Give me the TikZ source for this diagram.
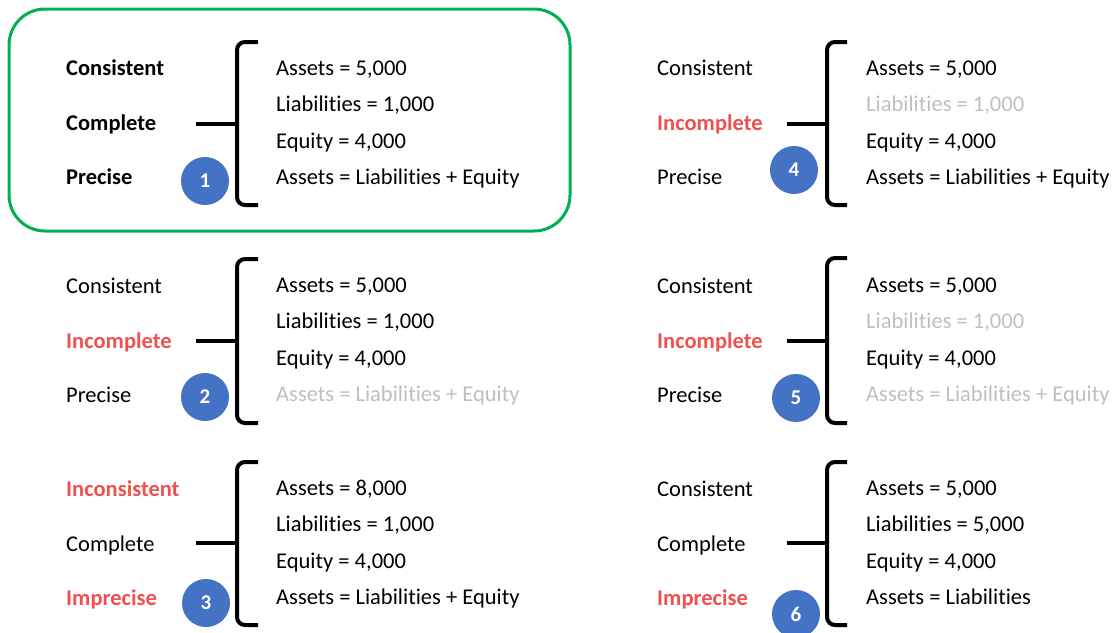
\documentclass[tikz,border=0pt]{standalone}
\usepackage{fontspec}
\setmainfont{Carlito}[Ligatures=NoCommon]
\usetikzlibrary{positioning}
\definecolor{badred}{RGB}{240,80,80}
\definecolor{gonegray}{RGB}{191,191,191}
\definecolor{numblue}{RGB}{68,114,196}
\definecolor{boxgreen}{RGB}{0,176,80}

\begin{document}
\begin{tikzpicture}[x=1pt, y=-1pt,
	txt/.style = {anchor=west, inner sep=0pt, text height=17pt, text depth=2pt, font=\fontsize{22.5}{26}\selectfont},
	good/.style = {txt, font=\fontsize{22.5}{26}\selectfont\bfseries},
	bad/.style = {good, text=badred},
	gone/.style = {txt, text=gonegray},
	num/.style = {circle, fill=numblue, text=white, minimum size=48pt, inner sep=0pt, font=\fontsize{21}{25}\selectfont\bfseries},
	brace/.style = {line width=4pt, rounded corners=8pt}]
	\useasboundingbox (0,0) rectangle (1113,632);
	\draw[boxgreen, line width=3pt, rounded corners=36pt] (9,9) rectangle (570,231);
	% panel 1
	\node[good] (l1a) at (66,68) {Consistent};
	\node[good, below=54.5pt of l1a.west, anchor=west] (l1b) {Complete};
	\node[good, below=54.5pt of l1b.west, anchor=west] (l1c) {Precise};
	\node[txt] (f1a) at (276,68) {Assets = 5,000};
	\node[txt, below=36.3pt of f1a.west, anchor=west] (f1b) {Liabilities = 1,000};
	\node[txt, below=36.3pt of f1b.west, anchor=west] (f1c) {Equity = 4,000};
	\node[txt, below=36.3pt of f1c.west, anchor=west] (f1d) {Assets = Liabilities + Equity};
	\node[num] (n1) at (205,181) {1};
	\coordinate (m1) at (237,124);
	\coordinate[left=41pt of m1] (s1);
	\draw[brace] (s1) -- (m1);
	\draw[brace] (m1) ++(21,-82) -| ++(-21,82) |- ++(21,81);
	% panel 2
	\node[txt] (l2a) at (66,286) {Consistent};
	\node[bad, below=54.5pt of l2a.west, anchor=west] (l2b) {Incomplete};
	\node[txt, below=54.5pt of l2b.west, anchor=west] (l2c) {Precise};
	\node[txt] (f2a) at (276,285) {Assets = 5,000};
	\node[txt, below=36.3pt of f2a.west, anchor=west] (f2b) {Liabilities = 1,000};
	\node[txt, below=36.3pt of f2b.west, anchor=west] (f2c) {Equity = 4,000};
	\node[gone, below=36.3pt of f2c.west, anchor=west] (f2d) {Assets = Liabilities + Equity};
	\node[num] (n2) at (205,397) {2};
	\coordinate (m2) at (237,341);
	\coordinate[left=41pt of m2] (s2);
	\draw[brace] (s2) -- (m2);
	\draw[brace] (m2) ++(21,-82) -| ++(-21,82) |- ++(21,82);
	% panel 3
	\node[bad] (l3a) at (66,489) {Inconsistent};
	\node[txt, below=54.5pt of l3a.west, anchor=west] (l3b) {Complete};
	\node[bad, below=54.5pt of l3b.west, anchor=west] (l3c) {Imprecise};
	\node[txt] (f3a) at (276,488) {Assets = 8,000};
	\node[txt, below=36.3pt of f3a.west, anchor=west] (f3b) {Liabilities = 1,000};
	\node[txt, below=36.3pt of f3b.west, anchor=west] (f3c) {Equity = 4,000};
	\node[txt, below=36.3pt of f3c.west, anchor=west] (f3d) {Assets = Liabilities + Equity};
	\node[num] (n3) at (206,603) {3};
	\coordinate (m3) at (237,543);
	\coordinate[left=41pt of m3] (s3);
	\draw[brace] (s3) -- (m3);
	\draw[brace] (m3) ++(21,-81) -| ++(-21,81) |- ++(21,82);
	% panel 4
	\node[txt] (l4a) at (657,68) {Consistent};
	\node[bad, below=54.5pt of l4a.west, anchor=west] (l4b) {Incomplete};
	\node[txt, below=54.5pt of l4b.west, anchor=west] (l4c) {Precise};
	\node[txt] (f4a) at (866,68) {Assets = 5,000};
	\node[gone, below=36.3pt of f4a.west, anchor=west] (f4b) {Liabilities = 1,000};
	\node[txt, below=36.3pt of f4b.west, anchor=west] (f4c) {Equity = 4,000};
	\node[txt, below=36.3pt of f4c.west, anchor=west] (f4d) {Assets = Liabilities + Equity};
	\node[num] (n4) at (794,170) {4};
	\coordinate (m4) at (827,124);
	\coordinate[left=40pt of m4] (s4);
	\draw[brace] (s4) -- (m4);
	\draw[brace] (m4) ++(20,-82) -| ++(-20,82) |- ++(20,81);
	% panel 5
	\node[txt] (l5a) at (657,286) {Consistent};
	\node[bad, below=54.5pt of l5a.west, anchor=west] (l5b) {Incomplete};
	\node[txt, below=54.5pt of l5b.west, anchor=west] (l5c) {Precise};
	\node[txt] (f5a) at (866,285) {Assets = 5,000};
	\node[gone, below=36.3pt of f5a.west, anchor=west] (f5b) {Liabilities = 1,000};
	\node[txt, below=36.3pt of f5b.west, anchor=west] (f5c) {Equity = 4,000};
	\node[gone, below=36.3pt of f5c.west, anchor=west] (f5d) {Assets = Liabilities + Equity};
	\node[num] (n5) at (796,398) {5};
	\coordinate (m5) at (827,341);
	\coordinate[left=40pt of m5] (s5);
	\draw[brace] (s5) -- (m5);
	\draw[brace] (m5) ++(20,-83) -| ++(-20,83) |- ++(20,82);
	% panel 6
	\node[txt] (l6a) at (657,489) {Consistent};
	\node[txt, below=54.5pt of l6a.west, anchor=west] (l6b) {Complete};
	\node[bad, below=54.5pt of l6b.west, anchor=west] (l6c) {Imprecise};
	\node[txt] (f6a) at (866,488) {Assets = 5,000};
	\node[txt, below=36.3pt of f6a.west, anchor=west] (f6b) {Liabilities = 5,000};
	\node[txt, below=36.3pt of f6b.west, anchor=west] (f6c) {Equity = 4,000};
	\node[txt, below=36.3pt of f6c.west, anchor=west] (f6d) {Assets = Liabilities};
	\node[num] (n6) at (796,614) {6};
	\coordinate (m6) at (827,543);
	\coordinate[left=40pt of m6] (s6);
	\draw[brace] (s6) -- (m6);
	\draw[brace] (m6) ++(20,-81) -| ++(-20,81) |- ++(20,82);
\end{tikzpicture}
\end{document}
